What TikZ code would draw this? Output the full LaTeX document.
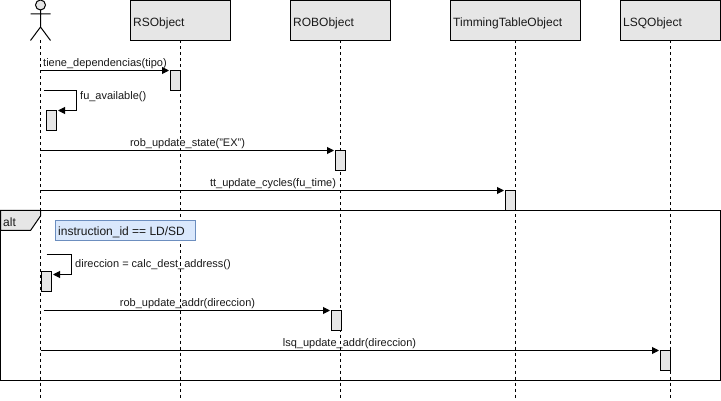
\documentclass[tikz,border=0pt]{standalone}
\usepackage{fontspec}
\setmainfont{Liberation Sans}
\usetikzlibrary{arrows.meta}
\definecolor{objfill}{HTML}{E6E6E6}
\definecolor{notefill}{HTML}{DAE8FC}
\definecolor{notedraw}{HTML}{6C8EBF}
\tikzset{
  objbox/.style={draw=black,fill=objfill,line width=1pt,minimum height=40pt,inner sep=0pt,outer sep=0pt,anchor=north west},
  objtext/.style={inner sep=0pt,anchor=base west,text=black!90,font=\fontsize{12pt}{14pt}\selectfont},
  activ/.style={draw=black,fill=objfill,line width=1pt,minimum width=10pt,minimum height=20pt,inner sep=0pt,outer sep=0pt,anchor=north west},
  lifeline/.style={line width=1pt,dash pattern=on 3pt off 3pt},
  msg/.style={line width=1pt,-{Triangle[length=7pt,width=7pt]},shorten >=1.5pt},
  msgtext/.style={inner sep=0pt,text=black!90,font=\fontsize{11pt}{13pt}\selectfont},
}
\begin{document}
\begin{tikzpicture}[x=1pt,y=-1pt]
\useasboundingbox (0,0) rectangle (721,401);
\fill[white] (0,0) rectangle (721,401);
% lifeline ends
\coordinate (actorTop) at (40.5,40.5);
\coordinate (actorEnd) at (40.5,400);
\coordinate (rsEnd) at (180.5,400);
\coordinate (robEnd) at (340.5,400);
\coordinate (ttEnd) at (515.5,400);
\coordinate (lsqEnd) at (670.5,400);
% objects
\node[objbox,minimum width=100pt] (rs) at (130.5,0.5) {};
\node[objbox,minimum width=100pt] (rob) at (290.5,0.5) {};
\node[objbox,minimum width=130pt] (tt) at (450.5,0.5) {};
\node[objbox,minimum width=100pt] (lsq) at (620.5,0.5) {};
\node[objtext] (rsT) at (133,26.5) {RSObject};
\node[objtext] (robT) at (293,26.5) {ROBObject};
\node[objtext] (ttT) at (453,26.5) {TimmingTableObject};
\node[objtext] (lsqT) at (623,26.5) {LSQObject};
% lifelines
\draw[lifeline] (actorTop) -- (actorEnd);
\draw[lifeline] (rs.south -| rsEnd) -- (rsEnd);
\draw[lifeline] (rob.south -| robEnd) -- (robEnd);
\draw[lifeline] (tt.south -| ttEnd) -- (ttEnd);
\draw[lifeline] (lsq.south -| lsqEnd) -- (lsqEnd);
% actor
\draw[line width=1pt,fill=objfill] (40.5,5) circle (5pt);
\draw[line width=1pt] (40.5,10) -- (40.5,27) (30.5,14) -- (50.5,14) (30.5,40.5) -- (40.5,27) -- (50.5,40.5);
% frame
\draw[line width=1pt] (0.5,210.5) rectangle (720.5,380.5);
\path[draw=black,fill=objfill,line width=1pt] (0.5,210.5) -- (40.5,210.5) -- (40.5,216) -- (30.5,230.5) -- (0.5,230.5) -- cycle;
\node[objtext] (altT) at (3,226.5) {alt};
% note
\node[draw=notedraw,fill=notefill,line width=1pt,minimum width=140pt,minimum height=20pt,inner sep=0pt,outer sep=0pt,anchor=north west] (note) at (55.5,220.5) {};
\node[objtext] (noteT) at (58,235.5) {instruction\_id == LD/SD};
% activations
\node[activ] (a1) at (170.5,70.5) {};
\node[activ] (a2) at (46.5,110.5) {};
\node[activ] (a3) at (335.5,150.5) {};
\node[activ] (a4) at (505.5,190.5) {};
\node[activ] (a5) at (41.5,271) {};
\node[activ] (a6) at (331.5,310.5) {};
\node[activ] (a7) at (660.5,350.5) {};
% message starts
\coordinate (s1) at (40.5,70.5);
\coordinate (s2) at (43.5,90.5);
\coordinate (s2b) at (76.5,90.5);
\coordinate (s2c) at (76.5,110.5);
\coordinate (s3) at (40.5,150.5);
\coordinate (s4) at (40.5,190.5);
\coordinate (s5) at (46.5,254.5);
\coordinate (s5b) at (71.5,254.5);
\coordinate (s5c) at (71.5,274.5);
\coordinate (s6) at (43.5,310.5);
\coordinate (s7) at (40.5,350.5);
% messages
\draw[msg] (s1) -- (a1.north west);
\draw[msg] (s2) -- (s2b) -- (s2c) -- (a2.north east);
\draw[msg] (s3) -- (a3.north west);
\draw[msg] (s4) -- (a4.north west);
\draw[msg] (s5) -- (s5b) -- (s5c) -- (a5.east |- s5c);
\draw[msg] (s6) -- (a6.north west);
\draw[msg] (s7) -- (a7.north west);
% labels
\node[msgtext,anchor=base west] (l1) at (43,66.5) {tiene\_dependencias(tipo)};
\node[msgtext,anchor=base west] (l2) at (80,99.5) {fu\_available()};
\node[msgtext,anchor=base] (l3) at (187.5,146.5) {rob\_update\_state("EX")};
\node[msgtext,anchor=base] (l4) at (273,186.5) {tt\_update\_cycles(fu\_time)};
\node[msgtext,anchor=base west] (l5) at (75,267.5) {direccion = calc\_dest\_address()};
\node[msgtext,anchor=base] (l6) at (187.5,306.5) {rob\_update\_addr(direccion)};
\node[msgtext,anchor=base] (l7) at (349.5,346.5) {lsq\_update\_addr(direccion)};
\end{tikzpicture}
\end{document}
